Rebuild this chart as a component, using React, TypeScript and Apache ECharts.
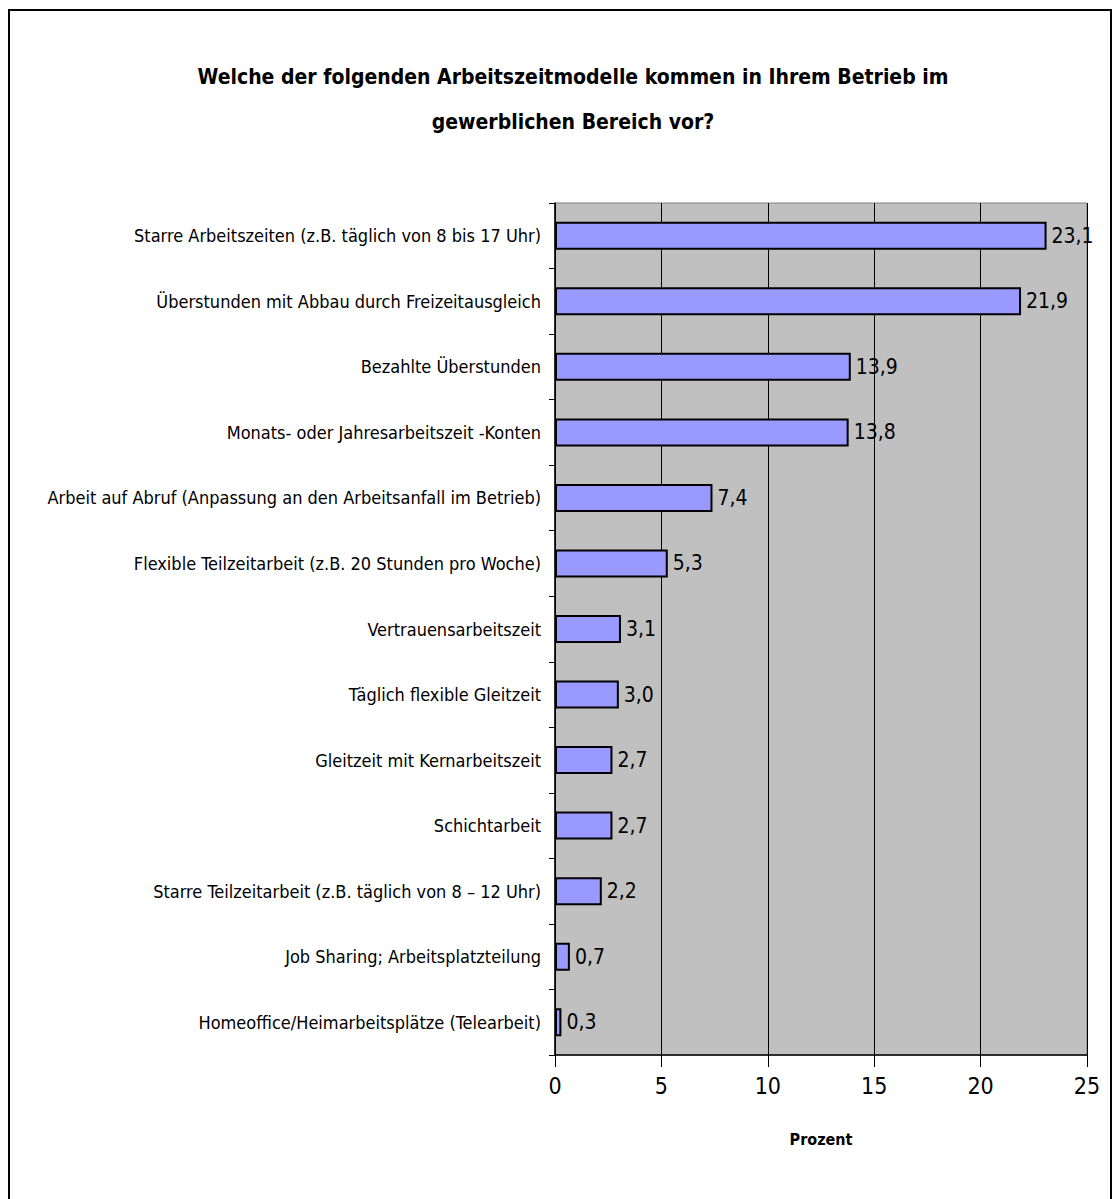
import React, { useEffect, useRef } from "react";
import * as echarts from "echarts";

const categories = [
  "Starre Arbeitszeiten (z.B. täglich von 8 bis 17 Uhr)",
  "Überstunden mit Abbau durch Freizeitausgleich",
  "Bezahlte Überstunden",
  "Monats- oder Jahresarbeitszeit -Konten",
  "Arbeit auf Abruf (Anpassung an den Arbeitsanfall im Betrieb)",
  "Flexible Teilzeitarbeit (z.B. 20 Stunden pro Woche)",
  "Vertrauensarbeitszeit",
  "Täglich flexible Gleitzeit",
  "Gleitzeit mit Kernarbeitszeit",
  "Schichtarbeit",
  "Starre Teilzeitarbeit (z.B. täglich von 8 – 12 Uhr)",
  "Job Sharing; Arbeitsplatzteilung",
  "Homeoffice/Heimarbeitsplätze (Telearbeit)",
];
const values = [23.1, 21.9, 13.9, 13.8, 7.4, 5.3, 3.1, 3.0, 2.7, 2.7, 2.2, 0.7, 0.3];
const titleLines = [
  "Welche der folgenden Arbeitszeitmodelle kommen in Ihrem Betrieb im",
  "gewerblichen Bereich vor?",
];
const axisName = "Prozent";

const FONT = "'Liberation Sans Narrow', 'DejaVu Sans Condensed', 'Arial Narrow', sans-serif";

export default function App() {
  const ref = useRef<HTMLDivElement>(null);
  useEffect(() => {
    const chart = echarts.init(ref.current!, null, { renderer: "svg" });
    chart.setOption({
      animation: false,
      backgroundColor: "#ffffff",
      textStyle: { fontFamily: FONT },
      title: {
        text: titleLines.join("\n"),
        left: 568,
        textAlign: "center",
        top: 49,
        textStyle: {
          fontFamily: FONT,
          fontSize: 21,
          fontWeight: "bold",
          color: "#000",
          lineHeight: 45,
        },
      },
      graphic: [
        {
          type: "rect",
          shape: { x: 9, y: 10, width: 1102, height: 1200 },
          style: { fill: "none", stroke: "#000", lineWidth: 2 },
          silent: true,
          z: 100,
        },
      ],
      grid: {
        left: 555,
        top: 203,
        right: 27,
        bottom: 144,
        show: true,
        backgroundColor: "#C0C0C0",
        borderColor: "#808080",
        borderWidth: 1,
      },
      xAxis: {
        type: "value",
        min: 0,
        max: 25,
        interval: 5,
        name: axisName,
        nameLocation: "middle",
        nameGap: 76,
        nameTextStyle: { fontFamily: FONT, fontSize: 16, fontWeight: "bold", color: "#000" },
        axisLine: { show: true, lineStyle: { color: "#000", width: 1.5 } },
        axisTick: { show: true, length: 12, lineStyle: { color: "#000" } },
        axisLabel: { fontFamily: FONT, fontSize: 23, color: "#000", margin: 19 },
        splitLine: { show: true, lineStyle: { color: "#000", width: 1 } },
      },
      yAxis: {
        type: "category",
        data: categories,
        inverse: true,
        axisLine: { show: true, lineStyle: { color: "#000", width: 1.5 } },
        axisTick: { show: true, length: 6, lineStyle: { color: "#000" } },
        axisLabel: { fontFamily: FONT, fontSize: 18, color: "#000", margin: 14 },
        splitLine: { show: false },
      },
      series: [
        {
          type: "bar",
          data: values,
          barWidth: 28,
          itemStyle: { color: "#9999FF", borderColor: "#000", borderWidth: 2 },
          label: {
            show: true,
            position: "right",
            distance: 5,
            fontFamily: FONT,
            fontSize: 21,
            color: "#000",
            formatter: (p: any) => p.value.toFixed(1).replace(".", ","),
          },
        },
      ],
    });
    return () => chart.dispose();
  }, []);
  return (
    <div
      ref={ref}
      style={{ position: "absolute", left: 0, top: 0, width: 1114, height: 1199 }}
    />
  );
}
